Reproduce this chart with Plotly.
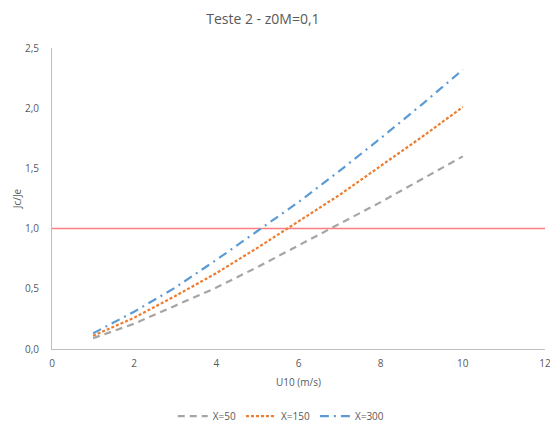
import plotly.graph_objects as go

u10 = [1, 2, 3, 4, 5, 6, 7, 8, 9, 10]
x50 = [0.09, 0.21, 0.36, 0.51, 0.68, 0.86, 1.04, 1.22, 1.41, 1.60]
x150 = [0.11, 0.26, 0.44, 0.63, 0.84, 1.06, 1.28, 1.52, 1.76, 2.01]
x300 = [0.13, 0.31, 0.51, 0.74, 0.98, 1.22, 1.48, 1.75, 2.03, 2.32]
limit_x = [0, 12]
limit_y = [1.0, 1.0]

title = "Teste 2 - z0M=0,1"
x_title = "U10 (m/s)"
y_title = "Jc/Je"

font = "Open Sans, Liberation Sans, sans-serif"
tick_color = "#595959"

fig = go.Figure()
fig.add_trace(go.Scatter(x=limit_x, y=limit_y, mode="lines", showlegend=False,
                         line=dict(color="#FF7C80", width=1.5), hoverinfo="skip"))
fig.add_trace(go.Scatter(x=u10, y=x50, mode="lines", name="X=50",
                         line=dict(color="#A5A5A5", width=2.2, dash="7px,5px")))
fig.add_trace(go.Scatter(x=u10, y=x150, mode="lines", name="X=150",
                         line=dict(color="#ED7D31", width=2.2, dash="3px,2px")))
fig.add_trace(go.Scatter(x=u10, y=x300, mode="lines", name="X=300",
                         line=dict(color="#5B9BD5", width=2.2, dash="9px,5px,2px,5px")))

fig.update_layout(
    width=550, height=423,
    margin=dict(l=52, r=5, t=48, b=74, autoexpand=False),
    paper_bgcolor="white", plot_bgcolor="white",
    separators=",.",
    font=dict(family=font, size=10, color=tick_color),
    title=dict(text=title, x=0.478, xanchor="center", y=0.955, yanchor="middle",
               font=dict(size=14, color="#595959")),
    showlegend=True,
    legend=dict(orientation="h", x=0.465, xanchor="center",
                y=-0.223, yanchor="middle",
                font=dict(size=10, color=tick_color), itemwidth=30,
                traceorder="normal"),
    xaxis=dict(range=[0, 12.0001], dtick=2, tick0=0, showgrid=False, zeroline=False,
               showline=True, linecolor="#BFBFBF", linewidth=1, ticks="",
               ticklabelstandoff=5, ticklabeloverflow="allow", automargin=False,
               title=dict(text=x_title, font=dict(size=10, color=tick_color), standoff=9)),
    yaxis=dict(range=[0, 2.5], dtick=0.5, tick0=0, tickformat=".1f", showgrid=False,
               zeroline=False, showline=True, linecolor="#BFBFBF", linewidth=1,
               ticks="", ticklabelstandoff=10, automargin=False,
               title=dict(text=y_title, font=dict(size=10, color=tick_color), standoff=1)),
)

fig.write_html("out.html", config={"displayModeBar": False},
               post_script="document.body.style.margin='0';document.body.style.overflow='hidden';")
